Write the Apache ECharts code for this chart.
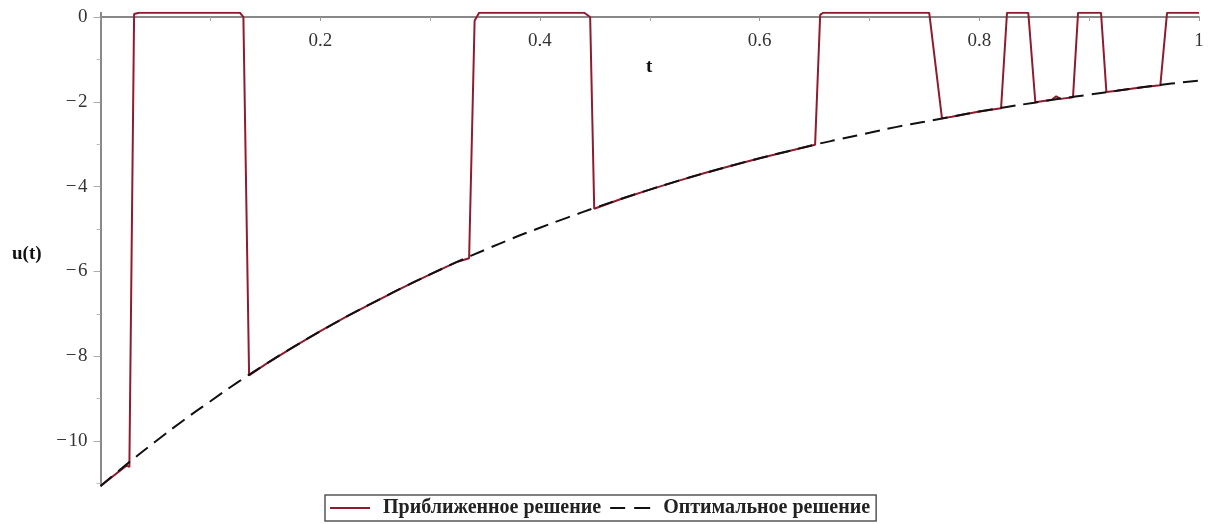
<!DOCTYPE html>
<html><head><meta charset="utf-8">
<script src="https://cdn.jsdelivr.net/npm/echarts@6/dist/echarts.min.js"></script>
<style>html,body{margin:0;padding:0;background:#fff}#c{width:1211px;height:524px}</style>
</head><body><div id="c"></div>
<script>
// Optimal solution (dashed)
const tOpt = [0,0.025,0.05,0.075,0.1,0.125,0.15,0.175,0.2,0.225,0.25,0.275,0.3,0.325,0.35,0.375,0.4,0.425,0.45,0.475,0.5,0.525,0.55,0.575,0.6,0.625,0.65,0.675,0.7,0.725,0.75,0.775,0.8,0.825,0.85,0.875,0.9,0.925,0.95,0.975,1];
const uOpt = [-11.06,-10.52,-10.01,-9.52,-9.06,-8.61,-8.19,-7.79,-7.41,-7.05,-6.71,-6.38,-6.07,-5.77,-5.49,-5.22,-4.97,-4.73,-4.50,-4.28,-4.07,-3.87,-3.68,-3.50,-3.33,-3.17,-3.01,-2.87,-2.73,-2.59,-2.47,-2.35,-2.23,-2.12,-2.02,-1.92,-1.83,-1.74,-1.65,-1.57,-1.50];
// Approximate solution (solid red)
const tApp = [0,0.0235,0.0262,0.0305,0.035,0.127,0.130,0.1352,0.15,0.175,0.2,0.225,0.25,0.275,0.3,0.325,0.3355,0.3405,0.3446,0.4403,0.4457,0.4494,0.475,0.5,0.525,0.55,0.575,0.6,0.625,0.6505,0.6551,0.6578,0.7544,0.766,0.775,0.8,0.8198,0.8252,0.8446,0.851,0.866,0.870,0.874,0.8853,0.8899,0.9108,0.9157,0.925,0.95,0.9648,0.9709,1];
const uApp = [-11.06,-10.58,-10.61,0.07,0.1,0.1,0.0,-8.45,-8.19,-7.79,-7.41,-7.05,-6.71,-6.38,-6.07,-5.77,-5.69,-0.09,0.1,0.1,0.0,-4.52,-4.28,-4.07,-3.87,-3.68,-3.50,-3.33,-3.17,-3.01,0.05,0.1,0.1,-2.39,-2.35,-2.23,-2.15,0.1,0.1,-2.01,-1.95,-1.87,-1.93,-1.89,0.1,0.1,-1.77,-1.74,-1.65,-1.61,0.1,0.1];
const yMajor = [-10,-8,-6,-4,-2,0];
const yMinor = [-11,-9,-7,-5,-3,-1];
const seriesNames = ['Приближенное решение','Оптимальное решение'];

const serif = '"Liberation Serif", "DejaVu Serif", serif';
const fmtY = v => v < 0 ? '\u2212\u200A' + Math.abs(v) : String(v);
const yMin = -11.06, yMax = 0.1, gridTop = 12.8, gridBottomPx = 486;
const zeroOffset = -(gridBottomPx - (gridTop + (gridBottomPx - gridTop) * (yMax - 0) / (yMax - yMin)));
const chart = echarts.init(document.getElementById('c'));
const yBase = {type:'value', min:yMin, max:yMax, splitLine:{show:false}, position:'left'};
chart.setOption({
  animation:false,
  grid:{left:100.6, right:12, top:gridTop, bottom:524 - gridBottomPx, containLabel:false},
  xAxis:{type:'value', min:0, max:1, interval:0.2, position:'bottom', offset:zeroOffset,
    axisLine:{onZero:false, lineStyle:{color:'#888', width:2}},
    axisTick:{show:true, length:4, lineStyle:{color:'#999'}},
    minorTick:{show:true, splitNumber:2, length:4, lineStyle:{color:'#aaa'}},
    splitLine:{show:false}, minorSplitLine:{show:false},
    axisLabel:{showMinLabel:false, margin:14, fontFamily:serif, fontSize:19, color:'#333',
      formatter:v => String(v)}},
  yAxis:[
    Object.assign({}, yBase, {
      axisLine:{show:true, onZero:false, lineStyle:{color:'#888', width:2}},
      axisTick:{show:true, length:7, customValues:yMajor, lineStyle:{color:'#aaa'}},
      axisLabel:{customValues:yMajor, margin:13, fontFamily:serif, fontSize:19, color:'#333', formatter:fmtY}}),
    Object.assign({}, yBase, {
      axisLine:{show:false},
      axisTick:{show:true, length:4, customValues:yMinor, lineStyle:{color:'#bbb'}},
      axisLabel:{show:false}})
  ],
  legend:{left:325, top:495, orient:'horizontal', padding:[3,6,3,5], itemGap:9, itemWidth:40, itemHeight:2,
    borderColor:'#555', borderWidth:1.5, borderRadius:0,
    textStyle:{fontFamily:serif, fontWeight:'bold', fontSize:20, color:'#222', padding:[0,0,0,8]},
    data:[
      {name:seriesNames[0], icon:'path://M0,0h40v2h-40z'},
      {name:seriesNames[1], icon:'path://M0,0h15v2h-15zM24,0h16v2h-16z'}
    ]},
  graphic:[
    {type:'text', left:646, top:58, style:{text:'t', font:'bold 19px '+serif, fill:'#111'}},
    {type:'text', left:12, top:245, style:{text:'u(t)', font:'bold 19px '+serif, fill:'#111'}}
  ],
  series:[
    {name:seriesNames[0], type:'line', showSymbol:false, symbol:'none',
      data:tApp.map((t,i)=>[t,uApp[i]]), lineStyle:{color:'#8e1b2e', width:2}, itemStyle:{color:'#8e1b2e'}},
    {name:seriesNames[1], type:'line', showSymbol:false, symbol:'none', smooth:true,
      data:tOpt.map((t,i)=>[t,uOpt[i]]), lineStyle:{color:'#111', width:2, type:[15,8]}, itemStyle:{color:'#111'}}
  ]
});
</script></body></html>
